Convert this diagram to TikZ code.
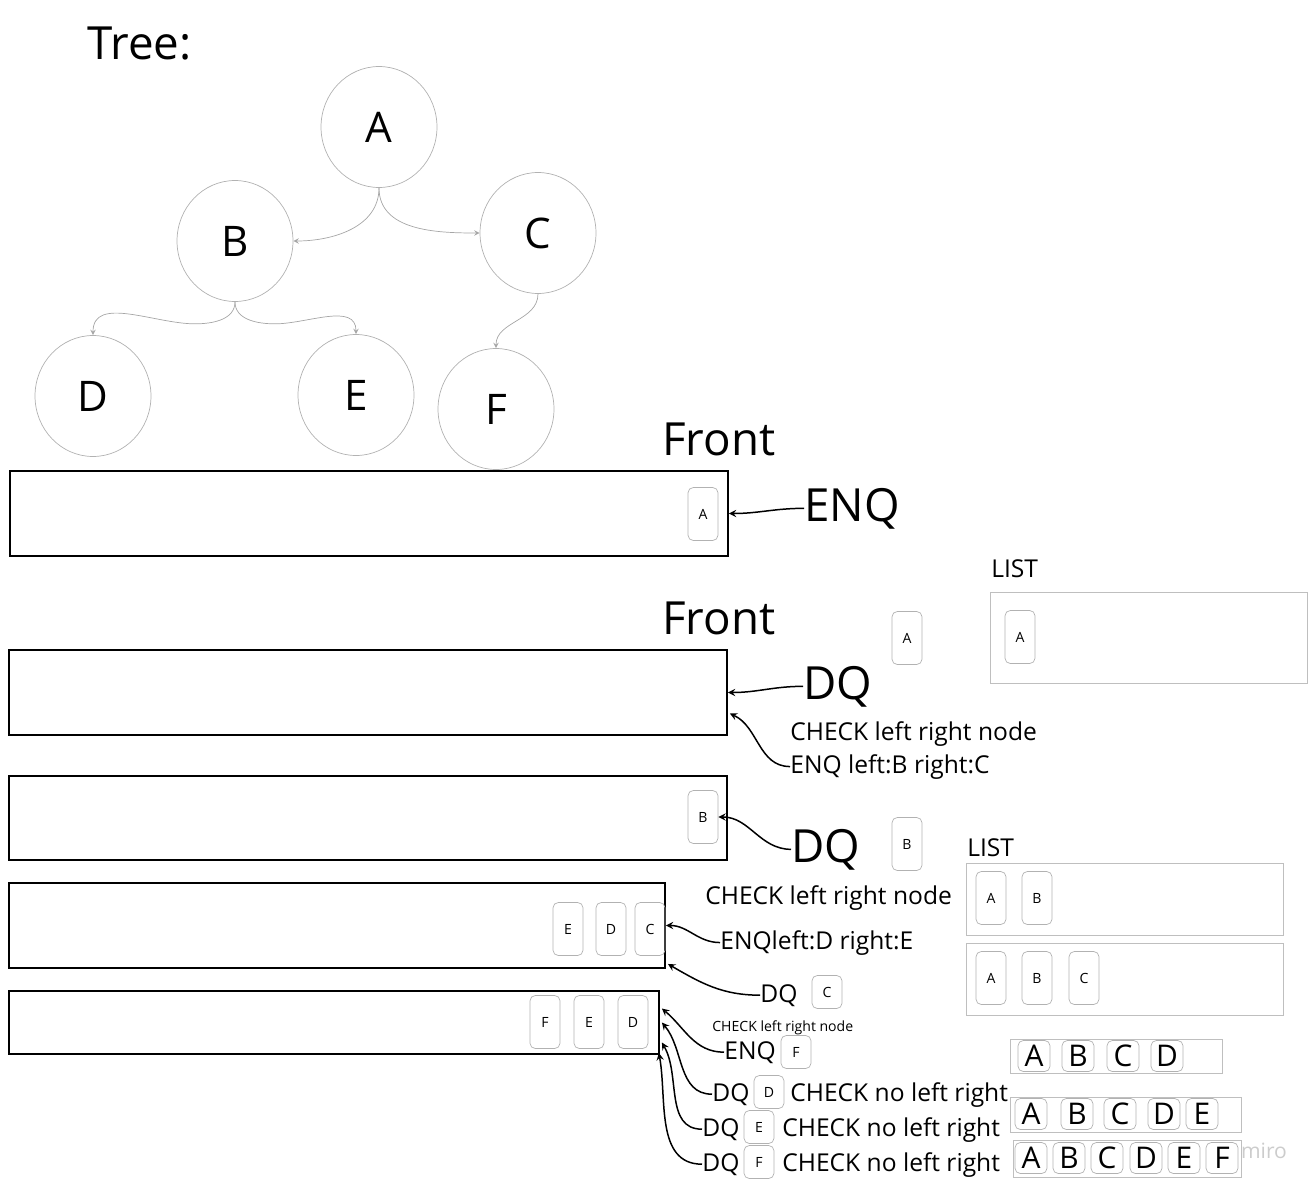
\documentclass[tikz,border=0pt]{standalone}
\usepackage{fontspec}
\setmainfont{Open Sans}
\usetikzlibrary{shapes.geometric,calc}

\begin{document}
\begin{tikzpicture}[>=stealth, x=0.02cm, y=0.02cm,
  tnode/.style={ellipse, draw=gray!60, line width=0.4pt, minimum width=2.32cm, minimum height=2.42cm, font=\fontsize{24}{28}\selectfont},
  tedge/.style={draw=gray!70, line width=0.4pt, ->},
  queue/.style={draw, line width=1.1pt, inner sep=0pt},
  item/.style={draw=gray!60, rounded corners=3pt, minimum width=0.6cm, minimum height=1.06cm, inner sep=0pt, font=\fontsize{8}{10}\selectfont},
  chip/.style={item, minimum height=0.66cm},
  cell/.style={item, minimum width=0.64cm, minimum height=0.62cm, font=\fontsize{17}{20}\selectfont},
  listbox/.style={draw=gray!50, line width=0.4pt, inner sep=0pt},
  txt/.style={inner sep=0pt, anchor=base west},
  big/.style={txt, font=\fontsize{26}{31}\selectfont},
  mid/.style={txt, font=\fontsize{14}{17}\selectfont},
  op/.style={->, line width=0.85pt}]

\useasboundingbox (0,0) rectangle (1315,-1187);

\node[big] (title) at (87,-59) {Tree:};

\node[tnode] (A) at (379,-127) {A};
\node[tnode] (B) at (235,-241) {B};
\node[tnode] (C) at (538,-233) {C};
\node[tnode] (D) at (93,-396) {D};
\node[tnode] (E) at (356,-395) {E};
\node[tnode] (F) at (496,-409) {F};

\draw[tedge] (A.south) to[out=-90,in=0] (B.east);
\draw[tedge] (A.south) to[out=-90,in=180] (C.west);
\draw[tedge] (B.south) to[out=-90,in=0] ++(-40,-22) to[out=180,in=90] (D.north);
\draw[tedge] (B.south) to[out=-90,in=180] ++(40,-22) to[out=0,in=90] (E.north);
\draw[tedge] (C.south) to[out=-90,in=90] (F.north);

% step 1
\node[big] (front1) at (662,-455) {Front};
\node[queue, minimum width=14.36cm, minimum height=1.7cm] (q1) at (369,-513.5) {};
\node[item] (a1) at (703,-514) {A};
\node[big] (enq1) at (804,-521) {ENQ};
\draw[op] (enq1.west) to[out=180,in=0] (q1.east);

% step 2
\node[big] (front2) at (662,-634) {Front};
\node[queue, minimum width=14.36cm, minimum height=1.7cm] (q2) at (368,-692.5) {};
\node[big] (dq2) at (803,-699) {DQ};
\node[item] (a2) at (907,-638) {A};
\node[mid] (list1) at (991,-577) {LIST};
\node[listbox, minimum width=6.34cm, minimum height=1.82cm] (l1) at (1148.5,-637.5) {};
\node[item] (l1a) at (1020,-637) {A};
\node[mid] (check2) at (790,-740) {CHECK left right node};
\node[mid] (enqbc) at (790,-773) {ENQ left:B right:C};
\draw[op] (dq2.west) to[out=180,in=0] (q2.east);
\draw[op] (enqbc.west) to[out=180,in=-25] ($(q2.east)+(2,-21)$);

% step 3
\node[queue, minimum width=14.36cm, minimum height=1.68cm] (q3) at (368,-818) {};
\node[item] (b3) at (703,-817) {B};
\node[big] (dq3) at (791,-862) {DQ};
\node[item] (b4) at (907,-844) {B};
\node[mid] (list2) at (967,-856) {LIST};
\node[listbox, minimum width=6.34cm, minimum height=1.44cm] (l2) at (1124.5,-899) {};
\node[item] (l2a) at (991,-898) {A};
\node[item] (l2b) at (1037,-898) {B};
\node[listbox, minimum width=6.34cm, minimum height=1.44cm] (l3) at (1124.5,-979) {};
\node[item] (l3a) at (991,-978) {A};
\node[item] (l3b) at (1037,-978) {B};
\node[item] (l3c) at (1084,-978) {C};
\draw[op] (dq3.west) to[out=180,in=0] (b3.east);

% step 4
\node[mid] (check3) at (705,-904) {CHECK left right node};
\node[queue, minimum width=13.12cm, minimum height=1.7cm] (q4) at (337,-925.5) {};
\node[item] (e4) at (568,-929) {E};
\node[item] (d4) at (611,-929) {D};
\node[item] (c4) at (650,-929) {C};
\node[mid] (enqde) at (720,-949) {ENQleft:D right:E};
\node[mid] (dq4) at (760,-1002) {DQ};
\node[chip] (c5) at (827,-992) {C};
\draw[op] (enqde.west) to[out=180,in=0] (q4.east);
\draw[op] (dq4.west) to[out=180,in=-30] ($(q4.south east)+(2,5)$);

% step 5
\node[queue, minimum width=13cm, minimum height=1.26cm] (q5) at (334,-1022.5) {};
\node[item] (f5) at (545,-1022) {F};
\node[item] (e5) at (589,-1022) {E};
\node[item] (d5) at (633,-1022) {D};
\node[txt, font=\fontsize{8}{10}\selectfont] (check4) at (712,-1031) {CHECK left right node};
\node[mid] (enq5) at (724,-1059) {ENQ};
\node[chip] (f6) at (796,-1052) {F};
\node[mid] (dqd) at (712,-1101) {DQ};
\node[chip] (d6) at (769,-1092) {D};
\node[mid] (nod) at (790,-1101) {CHECK no left right};
\node[mid] (dqe) at (702,-1136) {DQ};
\node[chip] (e6) at (759,-1127) {E};
\node[mid] (noe) at (782,-1136) {CHECK no left right};
\node[mid] (dqf) at (702,-1171) {DQ};
\node[chip] (f7) at (759,-1162) {F};
\node[mid] (nof) at (782,-1171) {CHECK no left right};
\draw[op] (enq5.west) to[out=180,in=-40] ($(q5.east)+(2,14)$);
\draw[op] (dqd.west) to[out=180,in=-50] ($(q5.east)+(2,0)$);
\draw[op] (dqe.west) to[out=180,in=-60] ($(q5.east)+(2,-20)$);
\draw[op] (dqf.west) to[out=180,in=-80] ($(q5.south east)+(-1,2)$);

\node[listbox, minimum width=4.24cm, minimum height=0.68cm] (r1) at (1116,-1056) {};
\foreach \x/\t in {1034/A,1078/B,1123/C,1167/D}
  \node[cell] (r1\t) at (\x,-1056) {\t};
\node[listbox, minimum width=4.62cm, minimum height=0.7cm] (r2) at (1125.5,-1114.5) {};
\foreach \x/\t in {1031/A,1077/B,1120/C,1164/D,1202/E}
  \node[cell] (r2\t) at (\x,-1114) {\t};
\node[listbox, minimum width=4.56cm, minimum height=0.74cm] (r3) at (1127,-1158.5) {};
\foreach \x/\t in {1031/A,1069/B,1107/C,1146/D,1184/E,1222/F}
  \node[cell] (r3\t) at (\x,-1158) {\t};

\node[font=\fontsize{12}{14}\selectfont, text=gray!40] (miro) at (1264,-1151) {miro};

\end{tikzpicture}
\end{document}
